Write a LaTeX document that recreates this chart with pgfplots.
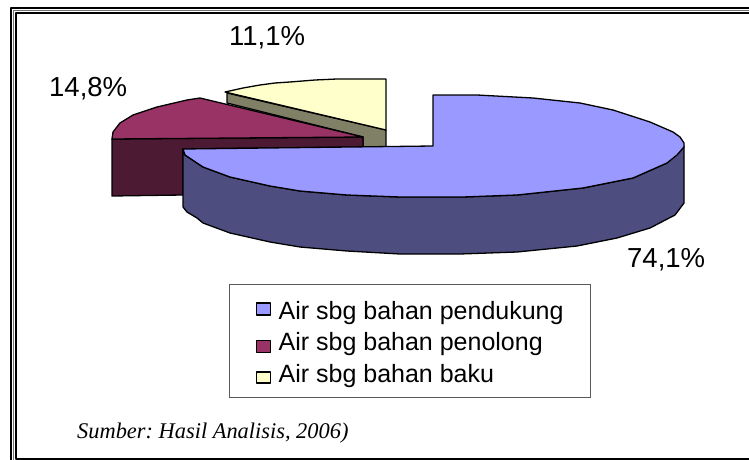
\documentclass[border=0pt]{standalone}
\usepackage{fontspec}
\usepackage{pgfplots}
\pgfplotsset{compat=1.18}
\setmainfont{Liberation Sans}
\newfontfamily\timesf{Liberation Serif}
\definecolor{cBlue}{HTML}{9999FF}
\definecolor{cBlueS}{HTML}{4D4D80}
\definecolor{cMar}{HTML}{993366}
\definecolor{cMarS}{HTML}{4D1A33}
\definecolor{cYel}{HTML}{FFFFCC}
\definecolor{cYelS}{HTML}{808066}
\begin{document}
\begin{tikzpicture}[x=1pt,y=1pt]
\begin{axis}[
  scale only axis, width=749pt, height=460pt,
  xmin=0, xmax=749, ymin=0, ymax=460, y dir=reverse,
  hide axis, clip=true,
  every axis plot/.append style={line join=round},
  legend cell align=left,
  legend style={at={(228.5/749,1-283.5/460)}, anchor=north west, draw=black!65, line width=1pt,
    inner xsep=27pt, inner ysep=11.5pt,
    font=\fontsize{25}{30}\selectfont, row sep=4pt,
    nodes={inner sep=0pt, anchor=base west, text height=23.5pt, text depth=4pt}},
]
% frame
\addplot[forget plot, black, line width=2pt] coordinates {(749,8.3) (11,8.3) (11,460)};
\addplot[forget plot, black!55, line width=1pt] coordinates {(749,10.8) (13.5,10.8) (13.5,460)};
\addplot[forget plot, black, line width=2pt] coordinates {(749,13.3) (16,13.3) (16,458.5) (749,458.5)};
% yellow slice side
\addplot[forget plot, fill=cYelS, draw=black, line width=1.3pt] coordinates {(227,93) (386,130) (386,147) (363,147) (363,137) (227,103)} --cycle;
% yellow slice top
\addplot[forget plot, fill=cYel, draw=black, line width=1.3pt] coordinates {(225,92) (243,88) (260,85) (275,83) (290,82) (315,80) (337,79) (386,79) (386,130)} --cycle;
% maroon slice side
\addplot[forget plot, fill=cMarS, draw=black, line width=1.3pt] coordinates {(112,139) (363,137) (363,147) (183,149) (183,195) (112,196)} --cycle;
% maroon slice top
\addplot[forget plot, fill=cMar, draw=black, line width=1.3pt] coordinates {(112,139) (113,132) (120,123) (133,115) (157,107) (187,100) (200,98) (363,137)} --cycle;
% blue slice side
\addplot[forget plot, fill=cBlueS, draw=black, line width=1.3pt] coordinates {(183,149) (183,207) (187,212) (197,218) (203,223) (230,233) (270,242) (300,247) (347,251) (400,254) (460,254) (517,252) (577,246) (617,238) (650,228) (675,215) (684,203) (684,146) (667,163) (633,178) (583,188) (517,195) (463,197) (400,197) (347,195) (300,191) (270,186) (230,177) (203,167) (185,155)} --cycle;
% blue slice top
\addplot[forget plot, fill=cBlue, draw=black, line width=1.3pt] coordinates {(433,146) (433,95) (477,95) (533,98) (580,103) (613,110) (650,122) (673,132) (680,137) (684,143) (684,147) (677,155) (667,163) (633,178) (583,188) (517,195) (463,197) (400,197) (347,195) (300,191) (270,186) (230,177) (203,167) (185,155) (183,149)} --cycle;
% legend
\addlegendimage{legend image code/.code={\path[draw=none,fill=none] (0pt,0pt) -- (22pt,0pt); \draw[black,line width=1.3pt,fill=cBlue] (0pt,4pt) rectangle (14pt,16pt);}}
\addlegendentry{Air sbg bahan pendukung}
\addlegendimage{legend image code/.code={\path[draw=none,fill=none] (0pt,0pt) -- (22pt,0pt); \draw[black,line width=1.3pt,fill=cMar] (0pt,-2pt) rectangle (14pt,10pt);}}
\addlegendentry{Air sbg bahan penolong}
\addlegendimage{legend image code/.code={\path[draw=none,fill=none] (0pt,0pt) -- (22pt,0pt); \draw[black,line width=1.3pt,fill=cYel] (0pt,-1pt) rectangle (14pt,10pt);}}
\addlegendentry{Air sbg bahan baku}
% labels
\node[anchor=base west, inner sep=0pt, font=\fontsize{27.5}{33}\selectfont] at (axis cs:229,46) {11,1\%};
\node[anchor=base west, inner sep=0pt, font=\fontsize{27.5}{33}\selectfont] at (axis cs:49,96) {14,8\%};
\node[anchor=base west, inner sep=0pt, font=\fontsize{27.5}{33}\selectfont] at (axis cs:627,267) {74,1\%};
\node[anchor=base west, inner sep=0pt, font=\timesf\itshape\fontsize{22.4}{26}\selectfont] at (axis cs:77,438) {\frenchspacing Sumber: Hasil Analisis, 2006)};
\end{axis}
\pgfresetboundingbox
\path[use as bounding box] (0pt,0pt) rectangle (749pt,460pt);
\end{tikzpicture}
\end{document}
